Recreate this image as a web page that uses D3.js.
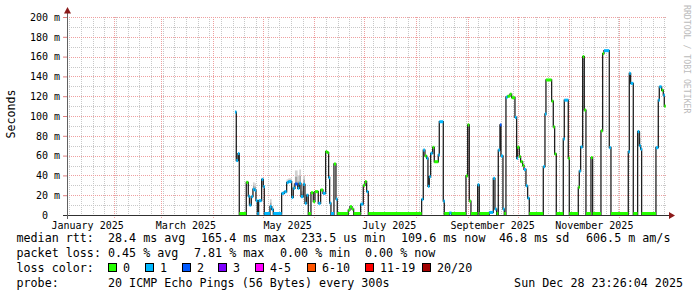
<!DOCTYPE html>
<html>
<head>
<meta charset="utf-8">
<script src="https://cdn.jsdelivr.net/npm/d3@7"></script>
<style>
body { margin: 0; background: #fff; }
text { font-family: 'DejaVu Sans Mono', monospace; white-space: pre; }
</style>
</head>
<body>
<script>
// days since 1 Jan 2025 where each median step starts
const day = [
  103.4, 104.2, 105.2, 106.0, 110.2, 111.4, 112.1, 113.2, 114.2, 115.2,
  116.0, 116.8, 117.6, 119.4, 120.4, 121.0, 124.4, 125.4, 126.4, 131.4,
  133.0, 134.4, 135.4, 137.4, 138.4, 139.4, 141.0, 142.0, 143.0, 144.4,
  145.4, 146.4, 147.4, 149.0, 150.4, 151.4, 153.4, 154.8, 156.2, 157.8,
  158.8, 159.6, 160.2, 161.0, 162.8, 164.0, 164.8, 171.4, 172.4, 173.6,
  174.6, 178.8, 180.4, 181.4, 182.4, 183.4, 215.4, 216.4, 217.4, 218.4,
  219.2, 220.0, 220.8, 222.0, 223.0, 225.4, 226.0, 228.4, 229.0, 232.0,
  233.4, 242.0, 243.0, 244.0, 245.0, 249.0, 250.0, 256.0, 258.4, 259.4,
  260.4, 261.4, 262.4, 263.0, 264.2, 265.0, 266.0, 267.0, 268.4, 269.4,
  271.4, 272.4, 272.8, 274.0, 274.8, 276.0, 276.8, 278.0, 279.0, 280.0,
  288.4, 289.4, 290.0, 293.4, 294.4, 295.2, 296.2, 300.4, 301.0, 303.4,
  304.0, 309.4, 310.0, 310.8, 312.0, 313.0, 314.0, 317.0, 318.0, 323.0,
  324.0, 324.8, 328.0, 329.0, 339.4, 340.0, 340.8, 342.4, 345.0, 346.0,
  346.8, 347.4, 356.0, 357.4, 358.0, 359.4, 360.4, 361.0
]
const lastDay = 361.7

// median rtt in ms
const median = [
  104, 55, 62, 0.5, 33, 19, 10, 18.5, 26, 25,
  14.5, 0.5, 14.5, 36, 28.6, 0.5, 8.5, 5.7, 1, 21.9,
  23.5, 32.7, 33.7, 17.8, 27, 31.3, 27, 32, 18.5, 31,
  11.8, 20, 0.5, 22.5, 13.5, 23.6, 11.8, 25.3, 21.9, 64,
  63, 37.7, 12, 0.5, 51.5, 16, 0.5, 5, 8.4, 6,
  0.5, 11, 30, 33.7, 23.6, 0.5, 15.8, 65.6, 59.6, 57.3,
  29, 38.7, 62.3, 68.4, 53.8, 60.6, 94.2, 14, 0.5, 2,
  0.5, 39.4, 91, 14, 0.5, 30.5, 0.5, 2.6, 37, 6,
  0.5, 65.6, 91, 59.6, 6, 0.5, 119, 120, 122, 118.5,
  98.6, 57.3, 68.4, 59, 53.8, 50, 46, 29.5, 17, 0.5,
  48.8, 102, 136.4, 115, 89, 61.6, 0.5, 76.8, 116, 57.3,
  0.5, 28, 44.4, 68.7, 160, 106, 0.5, 58, 0.5, 85,
  163, 166, 68, 0.5, 63.9, 143, 133, 0.5, 84.2, 70,
  66.5, 0.5, 68, 116, 129.5, 126, 121, 110
]

// lost pings out of 20
const loss = [
  1, 1, 1, 0, 0, 1, 1, 1, 1, 1,
  1, 1, 1, 1, 1, 1, 1, 1, 1, 1,
  1, 1, 1, 1, 1, 2, 1, 1, 1, 1,
  1, 1, 0, 0, 0, 0, 1, 0, 1, 0,
  0, 1, 1, 1, 0, 1, 0, 0, 0, 0,
  0, 1, 0, 0, 1, 0, 1, 1, 0, 1,
  1, 1, 1, 0, 0, 1, 1, 1, 0, 1,
  0, 0, 0, 0, 0, 1, 0, 1, 1, 1,
  0, 1, 2, 1, 1, 0, 1, 0, 0, 0,
  1, 1, 0, 0, 0, 0, 1, 1, 1, 0,
  1, 1, 0, 0, 0, 0, 0, 1, 1, 0,
  0, 0, 1, 1, 0, 0, 0, 0, 0, 0,
  0, 1, 1, 0, 1, 1, 1, 0, 1, 1,
  1, 0, 1, 1, 1, 0, 1, 0
]

// smoke (spread of the pings) where it shows above the median
const smokeDay = [114.2, 115.2, 124.4, 125.4, 134.4, 135.4, 138.4, 139.4, 141.0, 142.0, 143.0, 144.4, 345.0, 346.0]
const smokeTop = [33, 32, 16, 9, 36, 37, 32, 45, 40, 46, 24, 40, 86, 84]

const yTicks = d3.range(0, 201, 20)
const monthLabels = ['January 2025', 'March 2025', 'May 2025', 'July 2025', 'September 2025', 'November 2025']
const monthIndex = [0, 2, 4, 6, 8, 10]

const lossLabels = ['0', '1', '2', '3', '4-5', '6-10', '11-19', '20/20']
const lossUpper = [0, 1, 2, 3, 5, 10, 19, 20]
const lossColors = ['#26ff00', '#00b8ff', '#0059ff', '#7e00ff', '#ff00ff', '#ff5500', '#ff0000', '#a00000']

const width = 697
const height = 297
const plot = { left: 67, right: 667, top: 17, bottom: 215 }

const toDate = d => d3.timeMinute.offset(new Date(2025, 0, 1), Math.round(d * 1440))

const x = d3.scaleTime()
  .domain([new Date(2025, 0, 3, 15), new Date(2025, 11, 29, 15)])
  .range([plot.left, plot.right])

const y = d3.scaleLinear()
  .domain([0, 200])
  .range([plot.bottom, plot.top])

const lossColor = l => lossColors[lossUpper.findIndex(u => l <= u)]

const svg = d3.select('body').append('svg')
  .attr('width', width)
  .attr('height', height)
  .attr('viewBox', [0, 0, width, height])

const px = v => Math.round(v) + 0.5

// grid
const grid = svg.append('g')
grid.selectAll('.wk')
  .data(d3.timeSunday.range(...x.domain()))
  .join('line')
  .attr('x1', d => px(x(d))).attr('x2', d => px(x(d)))
  .attr('y1', plot.top).attr('y2', plot.bottom)
  .attr('stroke', '#c8c8c8').attr('stroke-dasharray', '1,1')

grid.selectAll('.hmin')
  .data(d3.range(10, 200, 20))
  .join('line')
  .attr('x1', plot.left).attr('x2', plot.right)
  .attr('y1', d => px(y(d))).attr('y2', d => px(y(d)))
  .attr('stroke', '#c8c8c8').attr('stroke-dasharray', '1,1')

grid.selectAll('.mo')
  .data(d3.timeMonth.range(...x.domain()))
  .join('line')
  .attr('x1', d => px(x(d))).attr('x2', d => px(x(d)))
  .attr('y1', plot.top).attr('y2', plot.bottom + 3)
  .attr('stroke', '#eea0a0').attr('stroke-dasharray', '1,1')

grid.selectAll('.hmaj')
  .data(yTicks.slice(1))
  .join('line')
  .attr('x1', plot.left).attr('x2', plot.right)
  .attr('y1', d => px(y(d))).attr('y2', d => px(y(d)))
  .attr('stroke', '#eea0a0').attr('stroke-dasharray', '1,1')

// y axis labels
const yAxis = svg.append('g')
  .attr('transform', `translate(${plot.left},0)`)
  .call(d3.axisLeft(y).tickValues(yTicks).tickSize(4).tickPadding(3)
    .tickFormat(d => (d === 0 ? '0  ' : `${d} m`)))
yAxis.select('.domain').remove()
yAxis.selectAll('line').attr('stroke', '#e08080')
yAxis.selectAll('text')
  .attr('font-family', "'DejaVu Sans Mono', monospace")
  .attr('font-size', 10)
  .attr('fill', '#000')

svg.append('text')
  .attr('transform', 'translate(15,114) rotate(-90)')
  .attr('text-anchor', 'middle')
  .attr('font-size', 11.6)
  .text('Seconds')

// x labels, centred on the middle of the month
svg.append('g').selectAll('text')
  .data(monthLabels)
  .join('text')
  .attr('x', (d, i) => x(new Date(2025, monthIndex[i], 16)))
  .attr('y', 228.5)
  .attr('text-anchor', 'middle')
  .attr('font-size', 10)
  .text(d => d)

// steps
const steps = day.map((d, i) => ({
  t0: toDate(d),
  t1: toDate(i < day.length - 1 ? day[i + 1] : lastDay),
  v: median[i],
  l: loss[i],
}))

// smoke
const smoke = svg.append('g')
smokeDay.forEach((d, k) => {
  const s = steps[day.indexOf(d)]
  const top = smokeTop[k]
  const mid = s.v + (top - s.v) * 0.55
  smoke.append('rect')
    .attr('x', x(s.t0)).attr('width', x(s.t1) - x(s.t0))
    .attr('y', y(top)).attr('height', y(mid) - y(top))
    .attr('fill', '#d0d0d0')
  smoke.append('rect')
    .attr('x', x(s.t0)).attr('width', x(s.t1) - x(s.t0))
    .attr('y', y(mid)).attr('height', y(s.v) - y(mid))
    .attr('fill', '#a4a4a4')
})

// median line
const line = d3.line()
  .x(d => x(d.t))
  .y(d => y(d.v))
  .curve(d3.curveStepAfter)

const pts = steps.map(s => ({ t: s.t0, v: s.v }))
pts.push({ t: steps[steps.length - 1].t1, v: steps[steps.length - 1].v })

svg.append('path')
  .attr('d', line(pts))
  .attr('fill', 'none')
  .attr('stroke', '#202020')
  .attr('stroke-width', 1.3)

// loss coloured median marks
svg.append('g').selectAll('rect')
  .data(steps)
  .join('rect')
  .attr('x', d => x(d.t0))
  .attr('width', d => Math.max(1.5, x(d.t1) - x(d.t0)))
  .attr('y', d => Math.min(y(d.v) - 1.5, plot.bottom - 3))
  .attr('height', 3)
  .attr('fill', d => lossColor(d.l))

// axes lines and arrows
svg.append('line')
  .attr('x1', 63).attr('x2', 670)
  .attr('y1', plot.bottom + 0.5).attr('y2', plot.bottom + 0.5)
  .attr('stroke', '#303030')
svg.append('line')
  .attr('x1', plot.left + 0.5).attr('x2', plot.left + 0.5)
  .attr('y1', plot.bottom + 4).attr('y2', 12)
  .attr('stroke', '#606060')
svg.append('path')
  .attr('d', 'M64,13.5L71,13.5L67.5,7Z')
  .attr('fill', '#8b1a1a')
svg.append('path')
  .attr('d', 'M669,212L669,219L675,215.5Z')
  .attr('fill', '#8b1a1a')

// watermark
svg.append('text')
  .attr('transform', 'translate(684,5) rotate(90)')
  .attr('font-size', 8.2)
  .attr('fill', '#bbb')
  .text('RRDTOOL / TOBI OETIKER')

// legend
const legend = svg.append('g').attr('font-size', 11.7).attr('fill', '#000')
const row = (yy, parts) => parts.forEach(([xx, t]) => legend.append('text')
  .attr('x', xx).attr('y', yy).text(t))

row(241.7, [[16.5, 'median rtt:'], [108, '28.4 ms avg'], [201, '165.4 ms max'],
  [301, '233.5 us min'], [401, '109.6 ms now'], [499, '46.8 ms sd'], [586, '606.5 m am/s']])
row(256.7, [[16.5, 'packet loss:'], [108, '0.45 % avg'], [194, '7.81 % max'],
  [280, '0.00 % min'], [365, '0.00 % now']])
row(271.7, [[16.5, 'loss color:']])
row(286.7, [[16.5, 'probe:'], [108, '20 ICMP Echo Pings (56 Bytes) every 300s']])
legend.append('text')
  .attr('x', 683).attr('y', 286.7)
  .attr('text-anchor', 'end')
  .text('Sun Dec 28 23:26:04 2025')

const boxX = [108, 145, 182, 218, 255, 307, 365, 422]
const lg = legend.selectAll('.lc')
  .data(lossLabels)
  .join('g')
  .attr('transform', (d, i) => `translate(${boxX[i]},0)`)
lg.append('rect')
  .attr('x', 0.5).attr('y', 263.5)
  .attr('width', 8).attr('height', 8)
  .attr('fill', (d, i) => lossColors[i])
  .attr('stroke', '#000')
lg.append('text')
  .attr('x', 15)
  .attr('y', 271.7)
  .text(d => d)
</script>
</body>
</html>
